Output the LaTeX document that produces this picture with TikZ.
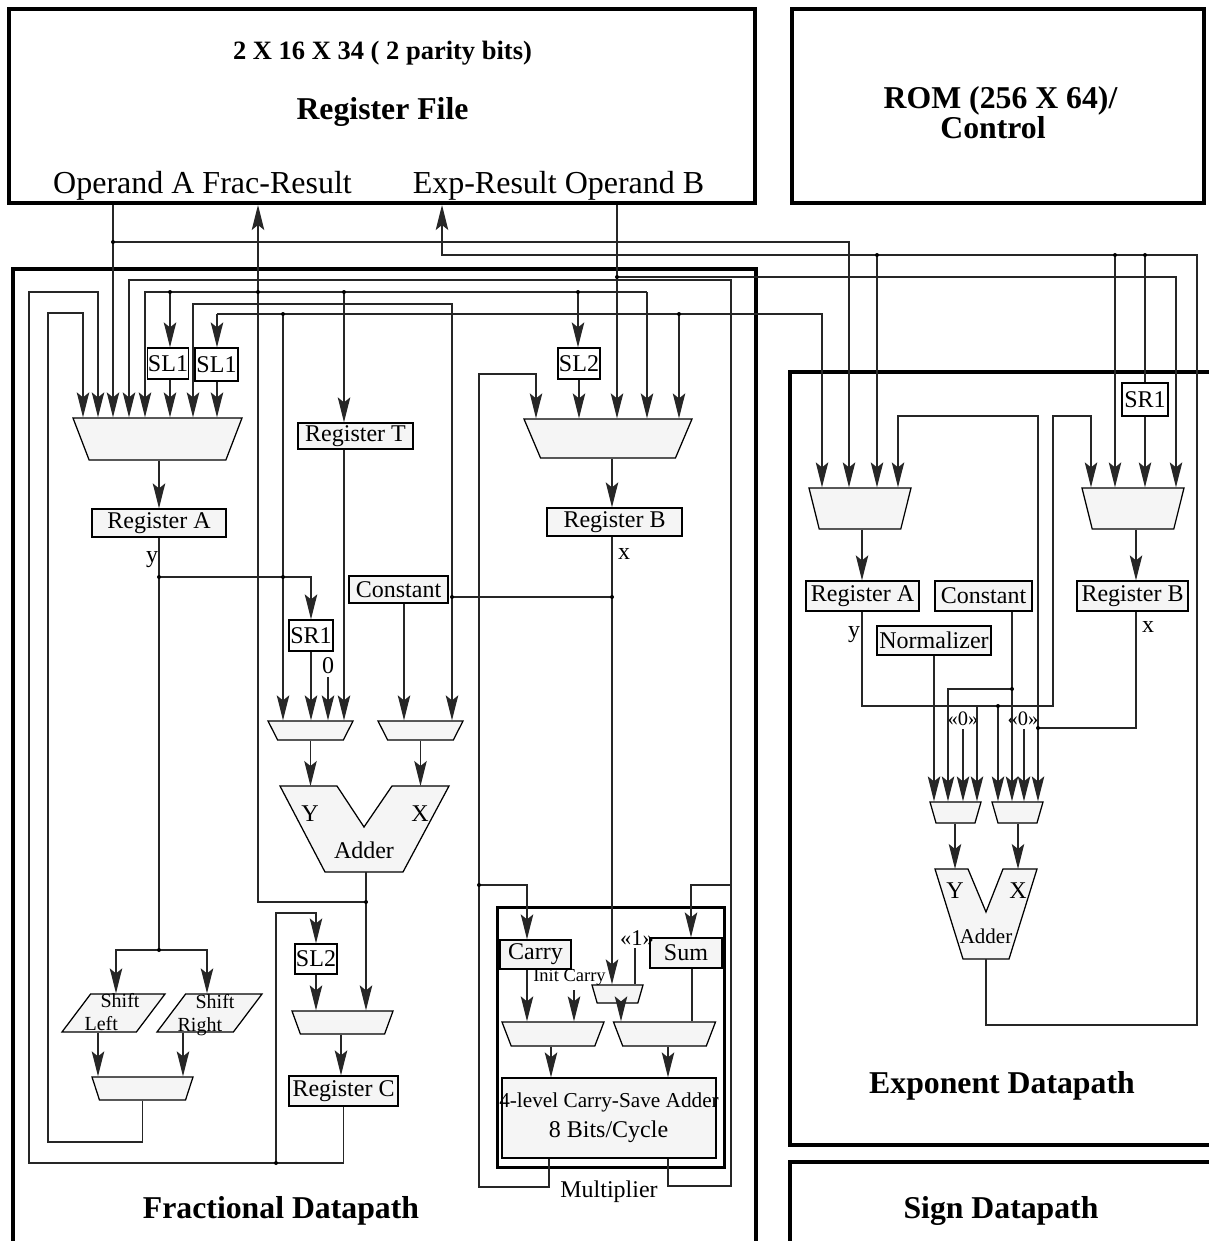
\documentclass[tikz,border=0pt]{standalone}
\usepackage{fontspec}
\setmainfont{Liberation Serif}
\usetikzlibrary{arrows.meta, shapes.geometric}

\begin{document}
\begin{tikzpicture}[
    x = 0.4pt, y = -0.4pt,
    line width = 0.5pt,
    wire/.style = {draw = black!85},
    arr/.style = {wire, -{Stealth[length = 10pt, width = 5pt, inset = 2pt]}},
    frame/.style = {line width = 1.6pt},
    wh/.style 2 args = {minimum width = #1*0.4pt, minimum height = #2*0.4pt,
                        text height = #2*0.4pt},
    reg/.style = {draw, fill = gray!8, inner sep = 0, font = \fontsize{9.6}{11}\selectfont},
    shifter/.style = {draw, fill = white, inner sep = 0, font = \fontsize{9.6}{11}\selectfont},
    box/.style 2 args = {minimum width = #1*0.4pt, minimum height = #2*0.4pt},
    mux/.style = {draw, fill = gray!8, trapezium, shape border rotate = 180,
                  trapezium stretches body = true, inner sep = 0, text depth = 0pt},
    para/.style = {draw, fill = gray!8, trapezium, trapezium left angle = 53,
                   trapezium right angle = 127, trapezium stretches body = true,
                   inner sep = 0, text depth = 0pt},
    lbl/.style = {inner sep = 0, font = \fontsize{9.6}{11}\selectfont},
    big/.style = {inner sep = 0, font = \fontsize{12.8}{14}\selectfont},
    title/.style = {inner sep = 0, font = \bfseries\fontsize{12.7}{13}\selectfont}
]
\useasboundingbox (0,0) rectangle (1208,1241);

% Register file and control
\node[draw, frame, box={746}{194}] (1) at (382,106) {};
\node[draw, frame, box={412}{194}] (2) at (998,106) {};
\node[title, font=\bfseries\fontsize{10.6}{12}\selectfont, anchor=base] (l1) at (382.5,59) {2 X 16 X 34 ( 2 parity bits)};
\node[title, anchor=base] (l2) at (382.5,119) {Register File};
\node[big, anchor=base] (l3) at (202.5,193) {Operand A Frac-Result};
\node[big, anchor=base] (l4) at (558.5,193) {Exp-Result Operand B};
\node[title, anchor=base] (l5) at (1000.5,108) {ROM (256 X 64)/};
\node[title, anchor=base] (l6) at (993,138) {Control};

% Datapath frames
\draw[frame] (13,1250) |- (756,269) -- (756,1250);
\draw[frame] (1215,372) -| (790,1145) -- (1215,1145);
\draw[frame] (1215,1162) -| (790,1250);
\node[title, anchor=base] (l7) at (281,1218) {Fractional Datapath};
\node[title, anchor=base] (l8) at (1002,1093) {Exponent Datapath};
\node[title, anchor=base] (l9) at (1001,1218) {Sign Datapath};

% Fractional datapath
\node[mux, wh={169}{42}, trapezium angle=69] (3) at (157.5,439) {};
\node[shifter, box={41}{31}] (4) at (168,363.5) {SL1};
\node[shifter, box={43}{33}] (5) at (216.5,364.5) {SL1};
\node[reg, box={134}{28}] (6) at (159,523) {Register A};
\node[reg, box={115}{26}] (7) at (355.5,436) {Register T};
\node[shifter, box={44}{31}] (8) at (311,635.5) {SR1};
\node[reg, box={99}{27}] (9) at (398.5,589.5) {Constant};
\node[mux, wh={85}{19}, trapezium angle=63] (10) at (310.5,730.5) {};
\node[mux, wh={85}{19}, trapezium angle=63] (11) at (420.5,730.5) {};
\node[para, wh={103}{38}] (12) at (113.5,1013) {};
\node[para, wh={105}{38}] (13) at (209.5,1013) {};
\node[mux, wh={101}{23}, trapezium angle=72] (14) at (142.5,1088.5) {};
\node[shifter, box={42}{30}] (15) at (316,959) {SL2};
\node[mux, wh={101}{23}, trapezium angle=70] (16) at (342.5,1022.5) {};
\node[reg, box={109}{30}] (17) at (343.5,1091) {Register C};
\node[shifter, box={42}{31}] (18) at (579,363.5) {SL2};
\node[mux, wh={168}{39}, trapezium angle=67] (19) at (608,438.5) {};
\node[reg, box={135}{28}] (20) at (614.5,522) {Register B};

% Multiplier
\node[draw, line width=1.2pt, box={227}{260}] (36) at (610.5,1037) {};
\node[reg, box={71}{29}] (21) at (535.5,954.5) {Carry};
\node[reg, box={72}{30}] (22) at (686,953) {Sum};
\node[mux, wh={51}{18}, trapezium angle=74] (23) at (617.5,994) {};
\node[mux, wh={102}{24}, trapezium angle=69] (24) at (553,1034) {};
\node[mux, wh={102}{24}, trapezium angle=69] (25) at (664.5,1034) {};
\node[reg, box={214}{80}] (26) at (609,1118) {};

% Fractional adder
\filldraw[fill=gray!8] (280,786) -- (337,786) -- (364,827) -- (392,786) -- (449,786)
    -- (403,872) -- (325,872) -- cycle;
\coordinate (fy) at (310.5,786);
\coordinate (fx) at (420.5,786);
\coordinate (fadd) at (366,872);

% Exponent datapath
\node[mux, wh={102}{41}, trapezium angle=76] (27) at (860,508.5) {};
\node[mux, wh={102}{41}, trapezium angle=76] (28) at (1133,508.5) {};
\node[shifter, box={46}{33}] (29) at (1145,399.5) {SR1};
\node[reg, box={113}{30}] (30) at (862.5,596) {Register A};
\node[reg, box={97}{30}] (31) at (983.5,596) {Constant};
\node[reg, box={111}{30}] (32) at (1132.5,596) {Register B};
\node[reg, box={114}{29}] (33) at (934,640.5) {Normalizer};
\node[mux, wh={51}{21}, trapezium angle=74] (34) at (955.5,812.5) {};
\node[mux, wh={51}{21}, trapezium angle=74] (35) at (1017.5,812.5) {};

% Exponent adder
\filldraw[fill=gray!8] (935,869) -- (968,869) -- (986,912) -- (1003,869) -- (1037,869)
    -- (1009,959) -- (963,959) -- cycle;
\coordinate (ey) at (955,869);
\coordinate (ex) at (1018,869);
\coordinate (eadd) at (986,959);

% Labels
\node[lbl, anchor=base] (l10) at (310,821) {Y};
\node[lbl, anchor=base] (l11) at (420,821) {X};
\node[lbl, anchor=base] (l12) at (364,858) {Adder};
\node[lbl, anchor=base] (l13) at (955,898) {Y};
\node[lbl, anchor=base] (l14) at (1018,898) {X};
\node[lbl, font=\fontsize{8.4}{10}\selectfont, anchor=base] (l15) at (986,943) {Adder};
\node[lbl, font=\fontsize{8}{9}\selectfont, align=left, anchor=west] (l16) at (84,1012) {\hspace*{6.4pt}Shift\\Left};
\node[lbl, font=\fontsize{8}{9}\selectfont, align=left, anchor=west] (l17) at (177,1015) {\hspace*{7.2pt}Shift\\Right};
\node[lbl, anchor=base] (l20) at (152,562) {y};
\node[lbl, anchor=base] (l21) at (624,559) {x};
\node[lbl, anchor=base] (l22) at (854,637) {y};
\node[lbl, anchor=base] (l23) at (1148,632) {x};
\node[lbl, anchor=base] (l24) at (328,673) {0};
\node[lbl, font=\fontsize{8.2}{9}\selectfont, anchor=base] (l25) at (963,725) {«0»};
\node[lbl, font=\fontsize{8.2}{9}\selectfont, anchor=base] (l26) at (1023,725) {«0»};
\node[lbl, font=\fontsize{9}{10}\selectfont, anchor=base] (l27) at (637,945) {«1»};
\node[lbl, font=\fontsize{7.4}{9}\selectfont, anchor=base] (l28) at (569.5,981) {Init Carry};
\node[lbl, font=\fontsize{8.5}{10}\selectfont, anchor=base] (l29) at (609,1107) {4-level Carry-Save Adder};
\node[lbl, anchor=base] (l30) at (608.5,1137) {8 Bits/Cycle};
\node[lbl, anchor=base] (l31) at (609,1197) {Multiplier};

% Inputs of mux A
\draw[arr] (14.south) |- (48,1142) |- (83,313) -- (3.north -| 83,0);
\draw[arr] (17.south) |- (29,1163) |- (98,292) -- (3.north -| 98,0);
\draw[arr] (1.south -| 113,0) -- (3.north -| 113,0);
\draw[arr] (26.south -| 668,0) |- (731,1186) |- (129,280) -- (3.north -| 129,0);
\draw[arr] (647,292) -| (3.north -| 145,0);
\draw[arr] (170,292) -- (4.north -| 170,0);
\draw[arr] (4.south -| 170,0) -- (3.north -| 170,0);
\draw[arr] (612,597) -| (452,304) -| (3.north -| 193,0);
\draw[arr] (217,314) -- (5.north -| 217,0);
\draw[arr] (5.south -| 217,0) -- (3.north -| 217,0);
\draw[arr] (217,314) -| (27.north -| 822,0);

% Register A and shifters
\draw[arr] (3.south -| 6.north) -- (6.north);
\draw[wire] (6.south) -- (159,950);
\draw[arr] (159,577) -| (8.north);
\draw[arr] (159,950) -| (12.north -| 116,0);
\draw[arr] (159,950) -| (13.north -| 207,0);
\draw[arr] (12.south -| 98,0) -- (14.north -| 98,0);
\draw[arr] (13.south -| 183,0) -- (14.north -| 183,0);

% Adder inputs
\draw[arr] (283,314) -- (10.north -| 283,0);
\draw[arr] (8.south) -- (10.north -| 8.south);
\draw[arr] (328,677) -- (10.north -| 328,0);
\draw[arr] (344,292) -- (7.north -| 344,0);
\draw[arr] (7.south -| 344,0) -- (10.north -| 344,0);
\draw[arr] (9.south -| 404,0) -- (11.north -| 404,0);
\draw[arr] (452,597) -- (11.north -| 452,0);
\draw[arr] (10.south) -- (fy);
\draw[arr] (11.south) -- (fx);

% Adder result
\draw[arr] (fadd) -- (366,902) -| (1.south -| 258,0);
\draw[arr] (fadd) -- (16.north -| fadd);
\draw[arr] (276,1163) |- (316,913) -- (15.north);
\draw[arr] (15.south) -- (16.north -| 15.south);
\draw[arr] (16.south -| 341,0) -- (17.north -| 341,0);

% Mux B and register B
\draw[arr] (578,292) -- (18.north -| 578,0);
\draw[arr] (18.south) -- (19.north -| 18.south);
\draw[arr] (1.south -| 617,0) -- (19.north -| 617,0);
\draw[arr] (647,292) -- (19.north -| 647,0);
\draw[arr] (679,314) -- (19.north -| 679,0);
\draw[arr] (26.south -| 549,0) |- (479,1187) |- (536,374) -- (19.north -| 536,0);
\draw[arr] (19.south -| 612,0) -- (20.north -| 612,0);
\draw[arr] (20.south -| 612,0) -- (23.north -| 612,0);

% Multiplier wiring
\draw[arr] (479,885) -| (21.north -| 527,0);
\draw[arr] (731,885) -| (22.north -| 691,0);
\draw[arr] (21.south -| 527,0) -- (24.north -| 527,0);
\draw[arr] (574,990) -- (24.north -| 574,0);
\draw[wire] (635,948) -- (23.north -| 635,0);
\draw[arr] (23.south -| 621,0) -- (25.north -| 621,0);
\draw[wire] (22.south -| 692,0) -- (25.north -| 692,0);
\draw[arr] (24.south -| 551,0) -- (26.north -| 551,0);
\draw[arr] (25.south -| 668,0) -- (26.north -| 668,0);

% Exponent muxes
\draw[arr] (113,242) -| (27.north -| 849,0);
\draw[arr] (eadd) |- (1197,1025) -- (1197,255) -| (1.south -| 442,0);
\draw[arr] (877,255) -- (27.north -| 877,0);
\draw[arr] (1115,255) -- (28.north -| 1115,0);
\draw[wire] (1145,255) -- (29.north);
\draw[arr] (29.south) -- (28.north -| 29.south);
\draw[arr] (617,277) -| (28.north -| 1176,0);
\draw[arr] (32.south -| 1136,0) |- (1038,728) -- (1038,416) -| (27.north -| 898,0);
\draw[arr] (30.south -| 862,0) |- (1053,706) -- (1053,416) -| (28.north -| 1091,0);
\draw[arr] (27.south -| 862,0) -- (30.north -| 862,0);
\draw[arr] (28.south -| 1136,0) -- (32.north -| 1136,0);

% Exponent adder inputs
\draw[arr] (33.south) -- (34.north -| 33.south);
\draw[arr] (1012,689) -| (34.north -| 948,0);
\draw[arr] (963,729) -- (34.north -| 963,0);
\draw[arr] (977,706) -- (34.north -| 977,0);
\draw[arr] (998,706) -- (35.north -| 998,0);
\draw[arr] (31.south -| 1012,0) -- (35.north -| 1012,0);
\draw[arr] (1024,729) -- (35.north -| 1024,0);
\draw[arr] (1038,728) -- (35.north -| 1038,0);
\draw[arr] (34.south -| ey) -- (ey);
\draw[arr] (35.south -| ex) -- (ex);

% Junction dots
\foreach \x/\y in {113/242, 617/277, 258/292, 170/292, 344/292, 578/292, 283/314,
                   679/314, 159/577, 283/577, 452/597, 612/597, 366/902, 159/950,
                   276/1163, 479/885, 877/255, 1115/255, 1145/255, 1012/689,
                   998/706, 1038/728}
    \fill (\x,\y) circle (0.8pt);

\end{tikzpicture}
\end{document}
